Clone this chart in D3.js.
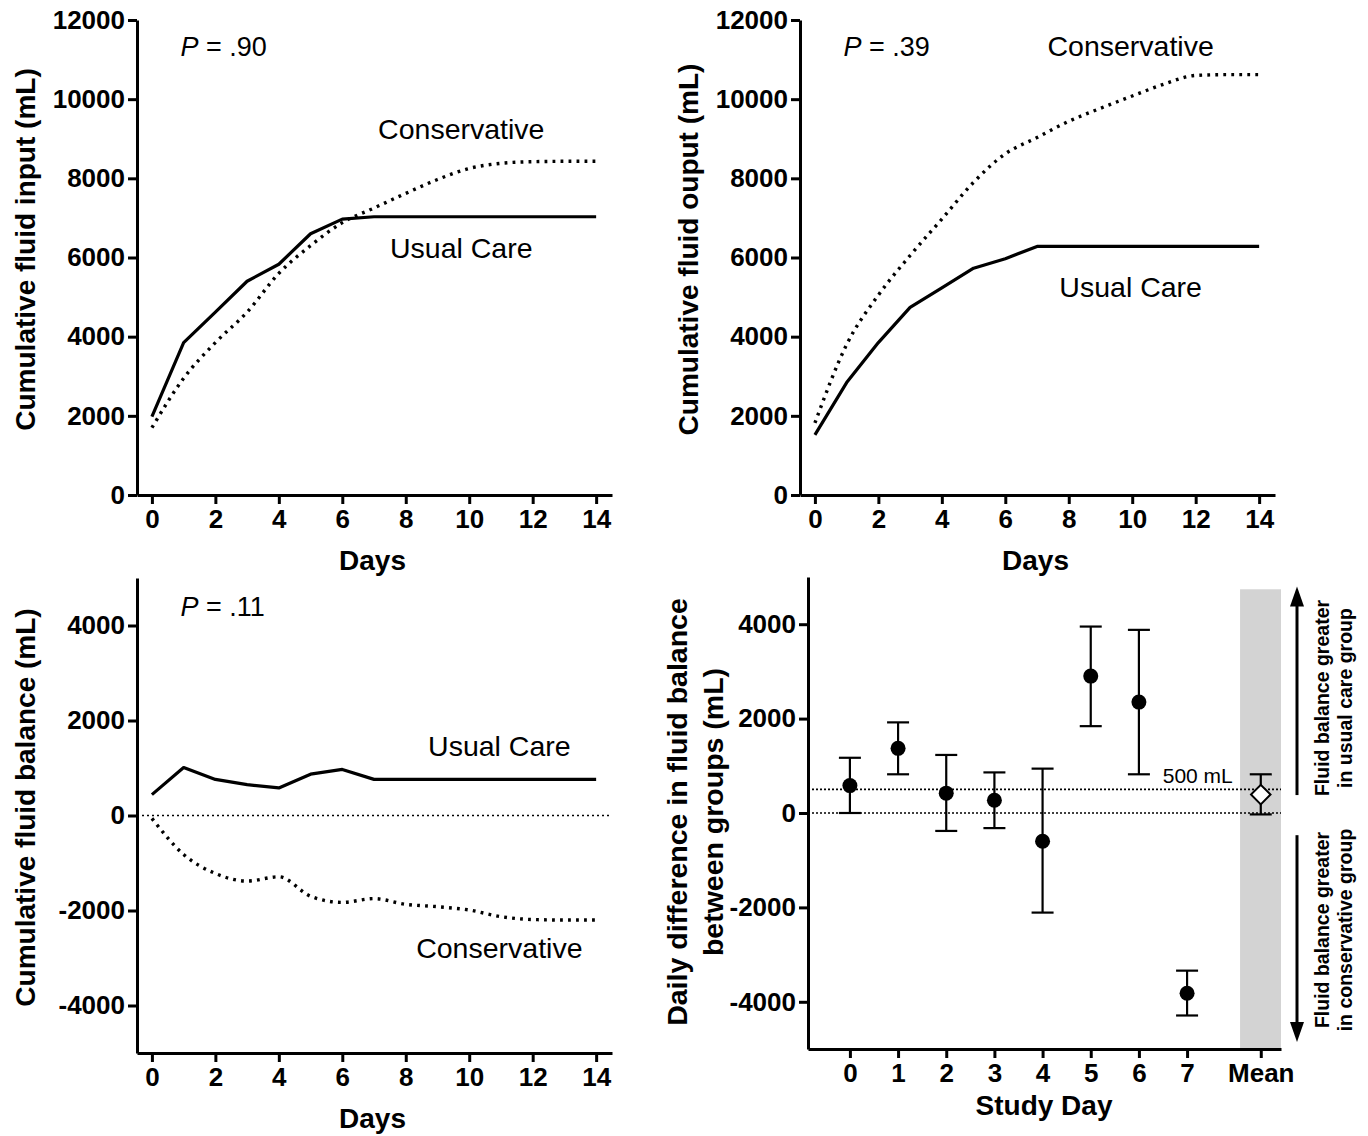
<!DOCTYPE html>
<html>
<head>
<meta charset="utf-8">
<script src="https://cdn.jsdelivr.net/npm/d3@7"></script>
<style>
  html, body { margin: 0; padding: 0; background: #fff; }
  svg { display: block; font-family: "Liberation Sans", Arial, Helvetica, sans-serif; }
  .tick text { font-weight: bold; font-size: 26px; fill: #000; }
  .axis path, .axis line { stroke: #000; stroke-width: 3; }
</style>
</head>
<body>
<svg id="chart" width="1368" height="1136"></svg>
<script>
// ---------------- DATA ----------------
const days = [0,1,2,3,4,5,6,7,8,9,10,11,12,13,14];
const dayTicks = [0,2,4,6,8,10,12,14];

const inputUsual = [1980, 3850, 4620, 5400, 5830, 6600, 6970, 7030, 7030, 7030, 7030, 7030, 7030, 7030, 7030];
const inputCons  = [1700, 2950, 3850, 4620, 5600, 6300, 6880, 7250, 7620, 7970, 8250, 8380, 8420, 8430, 8430];

const outputUsual = [1520, 2840, 3850, 4740, 5230, 5730, 5970, 6280, 6280, 6280, 6280, 6280, 6280, 6280, 6280];
const outputCons  = [1820, 3800, 5050, 6050, 6970, 7900, 8620, 9030, 9440, 9770, 10080, 10380, 10600, 10620, 10620];

const balanceUsual = [440, 1010, 760, 650, 580, 870, 970, 760, 760, 760, 760, 760, 760, 760, 760];
const balanceCons  = [-60, -820, -1220, -1380, -1290, -1700, -1830, -1750, -1870, -1920, -1990, -2130, -2190, -2200, -2200];

const studyDays = ["0","1","2","3","4","5","6","7"];
const diffMean  = [580, 1370, 420, 270, -600, 2900, 2350, -3820];
const diffLow   = [0, 820, -380, -320, -2110, 1840, 820, -4290];
const diffHigh  = [1170, 1920, 1230, 860, 940, 3950, 3880, -3340];
const overallLabel = "Mean";
const overallMean = 390, overallLow = -30, overallHigh = 820;

const pValues = [".90", ".39", ".11"];
const thresholdMl = 500;

// ---------------- DRAW ----------------
const svg = d3.select("#chart");
const FONT = '"Liberation Sans", Arial, Helvetica, sans-serif';
const fmt = d => String(d);   // plain hyphen-minus like the original

function styleAxis(g) {
  g.attr("class", "axis");
  g.selectAll("path").attr("stroke", "#000").attr("stroke-width", 3).attr("fill", "none");
  g.selectAll("line").attr("stroke", "#000").attr("stroke-width", 3);
}

function rotLabel(x, y, txt, size, weight) {
  svg.append("text")
    .attr("transform", `translate(${x},${y}) rotate(-90)`)
    .attr("text-anchor", "middle").attr("dy", "0.35em")
    .attr("font-size", size).attr("font-weight", weight || "bold")
    .attr("font-family", FONT)
    .text(txt);
}

function pLabel(x, y, val) {
  const t = svg.append("text").attr("x", x).attr("y", y)
    .attr("font-size", 27).attr("font-family", FONT);
  t.append("tspan").attr("font-style", "italic").text("P");
  t.append("tspan").text(" = " + val);
}

function linePanel(cfg) {
  const x = d3.scaleLinear().domain([-0.47, 14.5]).range(cfg.xr);
  const y = d3.scaleLinear().domain(cfg.yd).range(cfg.yr);

  const xa = svg.append("g").attr("transform", `translate(0,${cfg.yr[0]})`)
    .call(d3.axisBottom(x).tickValues(dayTicks).tickSize(9).tickSizeOuter(0).tickPadding(6));
  styleAxis(xa);
  xa.selectAll(".tick text").attr("font-size", 26).attr("font-weight", "bold").attr("font-family", FONT);

  const ya = svg.append("g").attr("transform", `translate(${cfg.xr[0]},0)`)
    .call(d3.axisLeft(y).tickValues(cfg.yticks).tickSize(9).tickSizeOuter(0).tickPadding(3).tickFormat(fmt));
  styleAxis(ya);
  ya.selectAll(".tick text").attr("font-size", 26).attr("font-weight", "bold").attr("font-family", FONT);

  if (cfg.zeroLine) {
    svg.append("line")
      .attr("x1", cfg.xr[0]).attr("x2", cfg.xr[1])
      .attr("y1", y(0)).attr("y2", y(0))
      .attr("stroke", "#000").attr("stroke-width", 1.6).attr("stroke-dasharray", "2,3");
  }

  const solid = d3.line().x((d, i) => x(days[i])).y(d => y(d)).curve(d3.curveLinear);
  const dotted = d3.line().x((d, i) => x(days[i])).y(d => y(d)).curve(d3.curveMonotoneX);

  svg.append("path").datum(cfg.usual).attr("d", solid)
    .attr("fill", "none").attr("stroke", "#000").attr("stroke-width", 3.2).attr("stroke-linejoin", "round");
  svg.append("path").datum(cfg.cons).attr("d", dotted)
    .attr("fill", "none").attr("stroke", "#000").attr("stroke-width", 3.4)
    .attr("stroke-dasharray", "2.8,5.2");

  svg.append("text").attr("x", (cfg.xr[0] + cfg.xr[1]) / 2 - 2).attr("y", cfg.yr[0] + 75)
    .attr("text-anchor", "middle").attr("font-size", 28).attr("font-weight", "bold")
    .attr("font-family", FONT).text("Days");
  rotLabel(cfg.ylabX, (cfg.yr[0] + cfg.yr[1]) / 2 - 8, cfg.ylab, 28);

  pLabel(x(0.9), y(cfg.pY), cfg.p);
  cfg.notes.forEach(n => {
    svg.append("text").attr("x", x(n.x)).attr("y", y(n.y))
      .attr("text-anchor", "middle").attr("font-size", 28.5).attr("font-family", FONT).text(n.t);
  });
}

// Panel A: input
linePanel({
  xr: [137, 612], yd: [0, 12000], yr: [495, 20],
  yticks: [0, 2000, 4000, 6000, 8000, 10000, 12000],
  usual: inputUsual, cons: inputCons,
  ylab: "Cumulative fluid input (mL)", ylabX: 25,
  p: pValues[0], pY: 11100,
  notes: [{x: 9.75, y: 9000, t: "Conservative"}, {x: 9.75, y: 6000, t: "Usual Care"}]
});

// Panel B: output
linePanel({
  xr: [800, 1275], yd: [0, 12000], yr: [495, 20],
  yticks: [0, 2000, 4000, 6000, 8000, 10000, 12000],
  usual: outputUsual, cons: outputCons,
  ylab: "Cumulative fluid ouput (mL)", ylabX: 688,
  p: pValues[1], pY: 11100,
  notes: [{x: 9.95, y: 11100, t: "Conservative"}, {x: 9.95, y: 5000, t: "Usual Care"}]
});

// Panel C: balance
linePanel({
  xr: [137, 612], yd: [-5000, 5000], yr: [1053, 578],
  yticks: [-4000, -2000, 0, 2000, 4000],
  usual: balanceUsual, cons: balanceCons, zeroLine: true,
  ylab: "Cumulative fluid balance (mL)", ylabX: 25,
  p: pValues[2], pY: 4200,
  notes: [{x: 10.95, y: 1250, t: "Usual Care"}, {x: 10.95, y: -3000, t: "Conservative"}]
});

// Panel D: daily difference
(function () {
  const meanPos = 8.53;
  const x = d3.scaleLinear().domain([-0.87, 8.95]).range([808, 1281]);
  const y = d3.scaleLinear().domain([-5000, 5000]).range([1049, 577]);
  const cats = studyDays.concat([overallLabel]);
  const pos = studyDays.map((d, i) => i).concat([meanPos]);

  svg.append("rect")
    .attr("x", x(8.1)).attr("width", x(8.95) - x(8.1))
    .attr("y", y(4740)).attr("height", y(-5000) - y(4740))
    .attr("fill", "#d3d3d3");

  [0, thresholdMl].forEach(v => {
    svg.append("line")
      .attr("x1", x(-0.87)).attr("x2", x(8.95))
      .attr("y1", y(v)).attr("y2", y(v))
      .attr("stroke", "#000").attr("stroke-width", 1.6).attr("stroke-dasharray", "2,2");
  });
  svg.append("text").attr("x", x(meanPos) - 28).attr("y", y(thresholdMl) - 6)
    .attr("text-anchor", "end").attr("font-size", 21).attr("font-family", FONT).text("500 mL");

  const xa = svg.append("g").attr("transform", `translate(0,${y(-5000)})`)
    .call(d3.axisBottom(x).tickValues(pos).tickSize(9).tickSizeOuter(0).tickPadding(6)
      .tickFormat((d, i) => cats[i]));
  styleAxis(xa);
  xa.selectAll(".tick text").attr("font-size", 26).attr("font-weight", "bold").attr("font-family", FONT);

  const ya = svg.append("g").attr("transform", `translate(${x(-0.87)},0)`)
    .call(d3.axisLeft(y).tickValues([-4000, -2000, 0, 2000, 4000]).tickSize(9).tickSizeOuter(0).tickPadding(3).tickFormat(fmt));
  styleAxis(ya);
  ya.selectAll(".tick text").attr("font-size", 26).attr("font-weight", "bold").attr("font-family", FONT);

  const cap = 11;
  const bars = studyDays.map((d, i) => ({p: i, m: diffMean[i], lo: diffLow[i], hi: diffHigh[i]}));
  bars.push({p: meanPos, m: overallMean, lo: overallLow, hi: overallHigh, mean: true});
  const g = svg.append("g").attr("stroke", "#000").attr("stroke-width", 2.2);
  bars.forEach(b => {
    g.append("line").attr("x1", x(b.p)).attr("x2", x(b.p)).attr("y1", y(b.lo)).attr("y2", y(b.hi));
    g.append("line").attr("x1", x(b.p) - cap).attr("x2", x(b.p) + cap).attr("y1", y(b.lo)).attr("y2", y(b.lo));
    g.append("line").attr("x1", x(b.p) - cap).attr("x2", x(b.p) + cap).attr("y1", y(b.hi)).attr("y2", y(b.hi));
  });
  bars.filter(b => !b.mean).forEach(b => {
    svg.append("circle").attr("cx", x(b.p)).attr("cy", y(b.m)).attr("r", 7.5).attr("fill", "#000");
  });
  bars.filter(b => b.mean).forEach(b => {
    svg.append("path")
      .attr("d", d3.symbol(d3.symbolSquare, 190)())
      .attr("transform", `translate(${x(b.p)},${y(b.m)}) rotate(45)`)
      .attr("fill", "#fff").attr("stroke", "#000").attr("stroke-width", 2);
  });

  svg.append("text").attr("x", 1044).attr("y", 1115)
    .attr("text-anchor", "middle").attr("font-size", 28).attr("font-weight", "bold")
    .attr("font-family", FONT).text("Study Day");
  rotLabel(677, 812, "Daily difference in fluid balance", 28.5);
  rotLabel(713, 812, "between groups (mL)", 28.5);

  // arrows (filled triangular heads)
  const ax = 1297;
  function arrow(y0, y1) {
    const dir = Math.sign(y1 - y0);
    const headLen = 20, headHalf = 7;
    svg.append("line").attr("x1", ax).attr("x2", ax).attr("y1", y0).attr("y2", y1 - dir * headLen + dir)
      .attr("stroke", "#000").attr("stroke-width", 3);
    svg.append("path")
      .attr("d", `M${ax},${y1} L${ax - headHalf},${y1 - dir * headLen} L${ax + headHalf},${y1 - dir * headLen} Z`)
      .attr("fill", "#000");
  }
  arrow(y(380), y(4800));
  arrow(y(-470), y(-4850));

  rotLabel(1322, 698, "Fluid balance greater", 19.5);
  rotLabel(1345, 698, "in usual care group", 19.5);
  rotLabel(1322, 930, "Fluid balance greater", 19.5);
  rotLabel(1345, 930, "in conservative group", 19.5);
})();
</script>
</body>
</html>
